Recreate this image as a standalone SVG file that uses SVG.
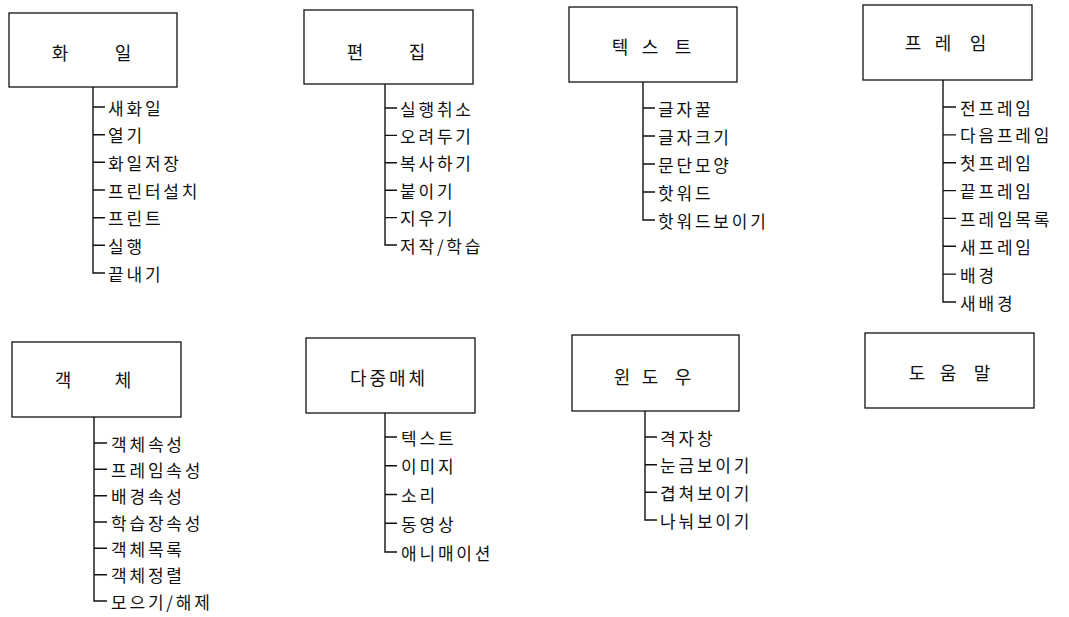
<svg xmlns="http://www.w3.org/2000/svg" width="1069" height="617" viewBox="0 0 1069 617">
<style>
.box{fill:#fff;stroke:#111;stroke-width:1.3}
.t{font-family:"Noto Sans CJK KR","Noto Sans",sans-serif;font-size:17px;fill:#111;dominant-baseline:central}
.title{text-anchor:middle;font-size:18px}
.item{letter-spacing:2.8px}
.c{stroke:#111;stroke-width:1.4;fill:none}
</style>
<rect width="1069" height="617" fill="#fff"/>
<g id="connectors">
<path class="c" d="M93,87 V273 H105 M93,107 H105 M93,134.7 H105 M93,162.3 H105 M93,190 H105 M93,217.7 H105 M93,245.3 H105"/>
<path class="c" d="M385,84 V245 H397 M385,108 H397 M385,135.4 H397 M385,162.8 H397 M385,190.2 H397 M385,217.6 H397"/>
<path class="c" d="M643,82 V220 H655 M643,108 H655 M643,136 H655 M643,164 H655 M643,192 H655"/>
<path class="c" d="M943,80 V302 H956 M943,107 H956 M943,134.9 H956 M943,162.7 H956 M943,190.6 H956 M943,218.4 H956 M943,246.3 H956 M943,274.1 H956"/>
<path class="c" d="M94,417 V601 H107 M94,443 H107 M94,469.3 H107 M94,495.7 H107 M94,522 H107 M94,548.3 H107 M94,574.7 H107"/>
<path class="c" d="M385,413 V552 H397 M385,437 H397 M385,465.75 H397 M385,494.5 H397 M385,523.25 H397"/>
<path class="c" d="M645,411 V520 H657 M645,437 H657 M645,464.7 H657 M645,492.3 H657"/>
</g>
<g id="file">
<rect class="box" x="9" y="13" width="168" height="74"/>
<text class="t title" x="60 91 123" y="52">화 일</text>
<text class="t item" x="108" y="107">새화일</text>
<text class="t item" x="108" y="134.7">열기</text>
<text class="t item" x="108" y="162.3">화일저장</text>
<text class="t item" x="108" y="190">프린터설치</text>
<text class="t item" x="108" y="217.7">프린트</text>
<text class="t item" x="108" y="245.3">실행</text>
<text class="t item" x="108" y="273">끝내기</text>
</g>
<g id="edit">
<rect class="box" x="304" y="10" width="169" height="74"/>
<text class="t title" x="355 386 417" y="51">편 집</text>
<text class="t item" x="400" y="108">실행취소</text>
<text class="t item" x="400" y="135.4">오려두기</text>
<text class="t item" x="400" y="162.8">복사하기</text>
<text class="t item" x="400" y="190.2">붙이기</text>
<text class="t item" x="400" y="217.6">지우기</text>
<text class="t item" x="400" y="245">저작/학습</text>
</g>
<g id="text">
<rect class="box" x="569" y="7" width="168" height="75"/>
<text class="t title" x="620 635 650 666 683" y="46">텍 스 트</text>
<text class="t item" x="658" y="108">글자꿀</text>
<text class="t item" x="658" y="136">글자크기</text>
<text class="t item" x="658" y="164">문단모양</text>
<text class="t item" x="658" y="192">핫워드</text>
<text class="t item" x="658" y="220">핫워드보이기</text>
</g>
<g id="frame">
<rect class="box" x="863" y="5" width="169" height="75"/>
<text class="t title" x="913 928 943 960 978" y="42">프 레 임</text>
<text class="t item" x="960" y="107">전프레임</text>
<text class="t item" x="960" y="134.9">다음프레임</text>
<text class="t item" x="960" y="162.7">첫프레임</text>
<text class="t item" x="960" y="190.6">끝프레임</text>
<text class="t item" x="960" y="218.4">프레임목록</text>
<text class="t item" x="960" y="246.3">새프레임</text>
<text class="t item" x="960" y="274.1">배경</text>
<text class="t item" x="960" y="302">새배경</text>
</g>
<g id="object">
<rect class="box" x="12" y="342" width="169" height="75"/>
<text class="t title" x="63 93 123" y="379">객 체</text>
<text class="t item" x="111" y="443">객체속성</text>
<text class="t item" x="111" y="469.3">프레임속성</text>
<text class="t item" x="111" y="495.7">배경속성</text>
<text class="t item" x="111" y="522">학습장속성</text>
<text class="t item" x="111" y="548.3">객체목록</text>
<text class="t item" x="111" y="574.7">객체정렬</text>
<text class="t item" x="111" y="601">모으기/해제</text>
</g>
<g id="multimedia">
<rect class="box" x="306" y="338" width="169" height="75"/>
<text class="t title" x="389" y="377" style="letter-spacing:3px">다중매체</text>
<text class="t item" x="401" y="437">텍스트</text>
<text class="t item" x="401" y="465.75">이미지</text>
<text class="t item" x="401" y="494.5">소리</text>
<text class="t item" x="401" y="523.25">동영상</text>
<text class="t item" x="401" y="552">애니매이션</text>
</g>
<g id="window">
<rect class="box" x="572" y="335" width="167" height="76"/>
<text class="t title" x="622 636 650 666 683" y="376">윈 도 우</text>
<text class="t item" x="660" y="437">격자창</text>
<text class="t item" x="660" y="464.7">눈금보이기</text>
<text class="t item" x="660" y="492.3">겹쳐보이기</text>
<text class="t item" x="660" y="520">나눠보이기</text>
</g>
<g id="help">
<rect class="box" x="865" y="333" width="169" height="75"/>
<text class="t title" x="917 932 948 965 982" y="372">도 움 말</text>
</g>
</svg>
